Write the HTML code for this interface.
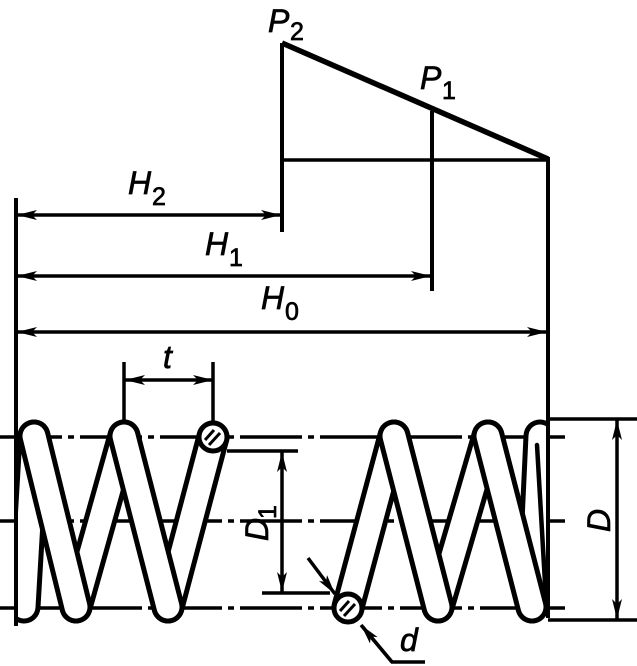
<!DOCTYPE html>
<html><head><meta charset="utf-8"><style>
html,body{margin:0;padding:0;background:#fff;}
svg{display:block;}
text{font-family:"Liberation Sans",sans-serif;font-style:italic;fill:#000;stroke:#000;stroke-width:0.7;}
</style></head><body>
<svg width="637" height="666" viewBox="0 0 637 666" xmlns="http://www.w3.org/2000/svg">
<defs>
<marker id="a" viewBox="0 0 20 10" refX="20" refY="5" markerWidth="20" markerHeight="10" markerUnits="userSpaceOnUse" orient="auto-start-reverse">
<path d="M0,0 L20,5 L0,10 L5,5 z" fill="#000"/>
</marker>
</defs>
<g stroke="#000" fill="none">
<g stroke-width="3.5" stroke-dasharray="62 6 6 6">
<line x1="0" y1="437" x2="565" y2="437"/>
<line x1="0" y1="521" x2="565" y2="521"/>
<line x1="0" y1="608" x2="565" y2="608"/>
</g>
<line x1="282" y1="43" x2="282" y2="232" stroke-width="4"/>
<line x1="282" y1="43" x2="548" y2="159" stroke-width="5.5"/>
<line x1="282" y1="160" x2="548" y2="160" stroke-width="3.5"/>
<line x1="432" y1="111" x2="432" y2="291" stroke-width="4"/>
<g stroke-width="3.5">
<line x1="17" y1="215" x2="281" y2="215" marker-start="url(#a)" marker-end="url(#a)"/>
<line x1="17" y1="276" x2="431" y2="276" marker-start="url(#a)" marker-end="url(#a)"/>
<line x1="17" y1="332" x2="547" y2="332" marker-start="url(#a)" marker-end="url(#a)"/>
<line x1="125" y1="380" x2="213" y2="380" marker-start="url(#a)" marker-end="url(#a)"/>
<line x1="124" y1="362" x2="124" y2="422"/>
<line x1="213" y1="362" x2="213" y2="422"/>
<line x1="227" y1="451" x2="298" y2="451"/>
<line x1="262" y1="593" x2="330" y2="593"/>
<line x1="282" y1="452" x2="282" y2="592" marker-start="url(#a)" marker-end="url(#a)"/>
<line x1="548" y1="419" x2="637" y2="419"/>
<line x1="548" y1="620" x2="637" y2="620"/>
<line x1="617" y1="420" x2="617" y2="619" marker-start="url(#a)" marker-end="url(#a)"/>
<line x1="308" y1="558" x2="335" y2="594" marker-end="url(#a)"/>
<polyline points="425,662 392,662 362,626" />
<line x1="392" y1="662" x2="361" y2="625" marker-end="url(#a)"/>
</g>
</g>
<g fill="none" stroke-linecap="round">
<path d="M24,607 L34,436 M76,607 L124,436 M168,607 L213,437 M348,607 L394,436 M438,607 L488,436 M532,607 L540,436" stroke="#000" stroke-width="33"/>
<path d="M24,607 L34,436 M76,607 L124,436 M168,607 L213,437 M348,607 L394,436 M438,607 L488,436 M532,607 L540,436" stroke="#fff" stroke-width="23"/>
<path d="M34,436 L76,607 M124,436 L168,607 M394,436 L438,607 M488,436 L532,607" stroke="#000" stroke-width="33"/>
<path d="M34,436 L76,607 M124,436 L168,607 M394,436 L438,607 M488,436 L532,607" stroke="#fff" stroke-width="23"/>
<path d="M537,445 L546,600" stroke="#000" stroke-width="4.5"/>
</g>
<rect x="0" y="410" width="14" height="230" fill="#fff"/>
<rect x="550" y="421" width="60" height="196" fill="#fff"/>
<g stroke="#000" stroke-width="3.5">
<line x1="0" y1="437" x2="14" y2="437"/><line x1="0" y1="521" x2="14" y2="521"/><line x1="0" y1="608" x2="14" y2="608"/>
<line x1="550" y1="437" x2="565" y2="437"/><line x1="550" y1="521" x2="565" y2="521"/><line x1="550" y1="608" x2="565" y2="608"/>
</g>
<line x1="16" y1="198" x2="16" y2="626" stroke="#000" stroke-width="4"/>
<line x1="548" y1="157" x2="548" y2="618" stroke="#000" stroke-width="4"/>
<g stroke="#000">
<circle cx="213" cy="437" r="14" fill="#fff" stroke-width="5"/>
<circle cx="348" cy="608" r="14" fill="#fff" stroke-width="5"/>
<g stroke-width="3">
<line x1="205" y1="440" x2="214" y2="430"/><line x1="209" y1="445" x2="220" y2="433"/>
<line x1="340" y1="611" x2="349" y2="601"/><line x1="344" y1="616" x2="355" y2="604"/>
</g>
</g>
<text x="268" y="32" font-size="32">P</text><text x="290" y="40" font-size="25" style="font-style:normal">2</text>
<text x="420" y="89" font-size="32">P</text><text x="442" y="99" font-size="25" style="font-style:normal">1</text>
<text x="128" y="194" font-size="32">H</text><text x="152" y="205" font-size="25" style="font-style:normal">2</text>
<text x="205" y="255" font-size="32">H</text><text x="229" y="266" font-size="25" style="font-style:normal">1</text>
<text x="261" y="309" font-size="32">H</text><text x="285" y="320" font-size="25" style="font-style:normal">0</text>
<text x="163" y="368" font-size="32">t</text>
<text x="400" y="651" font-size="32">d</text>
<g transform="translate(268,541) rotate(-90)"><text x="0" y="0" font-size="32">D</text><text x="22" y="8" font-size="25" style="font-style:normal">1</text></g>
<text transform="translate(610,532) rotate(-90)" font-size="32">D</text>
</svg>
</body></html>
